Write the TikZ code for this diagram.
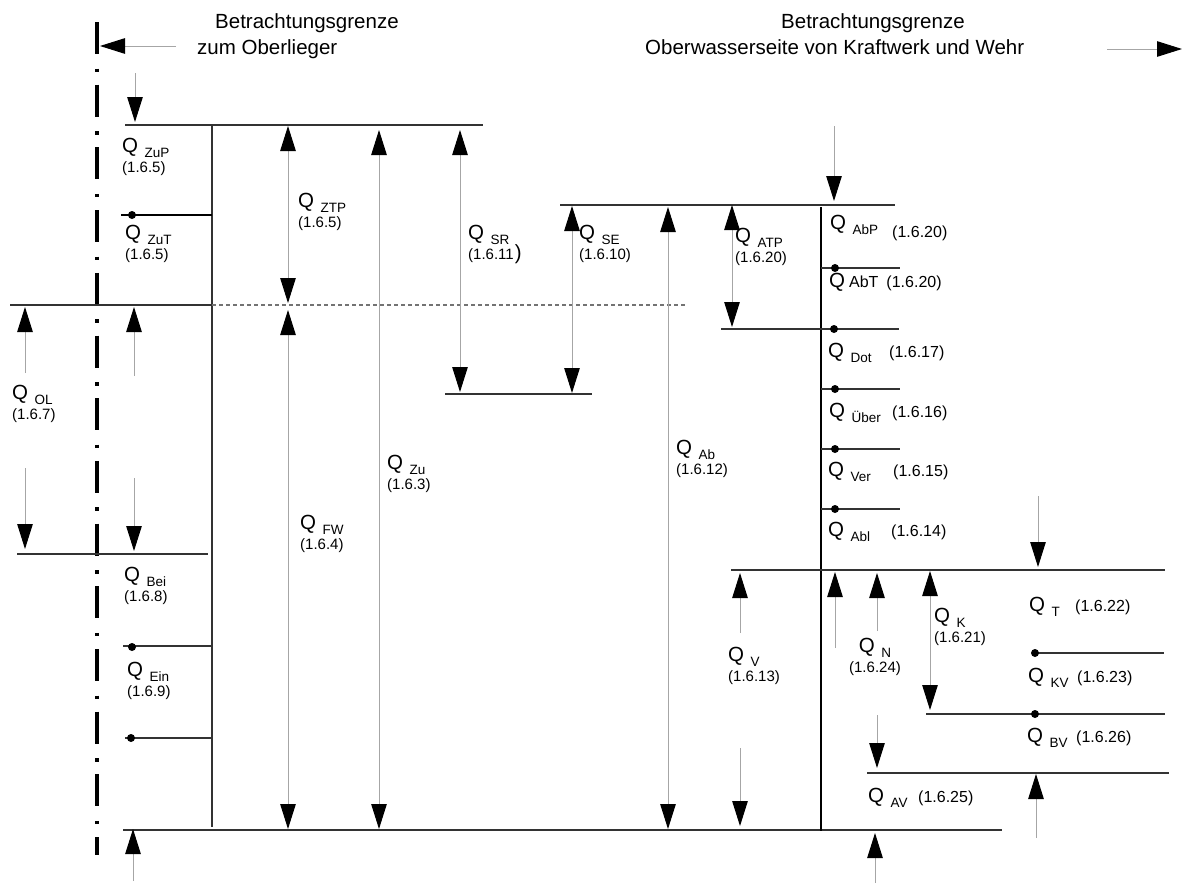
\documentclass[tikz,border=0pt]{standalone}
\usepackage{fontspec}
\setmainfont{Liberation Sans}
\usetikzlibrary{arrows.meta}

\newcommand{\subf}{\fontsize{13.5}{16}\selectfont}
\newcommand{\numf}{\fontsize{15}{18}\selectfont}
\newcommand{\rnumf}{\fontsize{16}{18}\selectfont}
\newcommand{\Qsub}[1]{Q\hspace{6.5pt}\raisebox{-5pt}{\subf #1}}
\newcommand{\Qrow}[3]{\makebox[#1][l]{\Qsub{#2}}{\rnumf #3}}

\begin{document}
\begin{tikzpicture}[
  x=1pt, y=-1pt,
  font=\fontsize{20.5}{20}\selectfont,
  >={Triangle[length=25pt, width=15.5pt, color=black]},
  lvline/.style={draw=black!80, line width=1.3pt},
  flow/.style={draw=black!35, line width=1pt, ->},
  both/.style={draw=black!35, line width=1pt, <->},
  grenze/.style={line width=4pt, dash pattern=on 32pt off 14.5pt on 3.5pt off 12.7pt},
  qlabel/.style={anchor=north west, inner sep=0pt, align=left},
  head/.style={anchor=north west, inner sep=0pt, align=left, font=\fontsize{20.5}{26}\selectfont}
]
\useasboundingbox (0,0) rectangle (1184,884);

% Betrachtungsgrenzen
\draw[grenze] (97,22) -- (97,855);
\node[head] (grenzeol) at (197,13) {\hspace*{18pt}Betrachtungsgrenze\\zum Oberlieger};
\draw[flow] (176,46) -- (100,46);
\node[head] (grenzeow) at (645,13) {\hspace*{136pt}Betrachtungsgrenze\\Oberwasserseite von Kraftwerk und Wehr};
\draw[flow] (1107,49) -- (1182,49);

% Zufluss
\draw[lvline] (125,125) -- (483,125);
\draw[lvline] (212,125) -- (212,827);
\draw[lvline, draw=black, line width=2pt] (121,215) -- (212,215);
\fill (132,215) circle (4pt);
\draw[lvline] (10,305) -- (212,305);
\draw[lvline, draw=black!55, dash pattern=on 4pt off 3pt] (212,305) -- (687,305);
\draw[lvline] (17,554) -- (208,554);
\draw[lvline] (123,646) -- (212,646);
\fill (132,647) circle (4pt);
\draw[lvline] (125,738) -- (212,738);
\fill (131,738) circle (4pt);
\draw[lvline] (123,830) -- (1002,830);

\draw[flow] (135,73) -- (135,122);
\draw[flow] (25,373) -- (25,307);
\draw[flow] (25,468) -- (25,549);
\draw[flow] (134,376) -- (134,307);
\draw[flow] (134,478) -- (134,551);
\draw[flow] (133,881) -- (133,829);
\draw[both] (288,126) -- (288,303);
\draw[both] (288,310) -- (288,829);
\draw[both] (379,130) -- (379,829);

\node[qlabel] (qzup) at (122,138) {\Qsub{ZuP}\\{\numf (1.6.5)}};
\node[qlabel] (qzut) at (125,225) {\Qsub{ZuT}\\{\numf (1.6.5)}};
\node[qlabel] (qol) at (12,385) {\Qsub{OL}\\{\numf (1.6.7)}};
\node[qlabel] (qbei) at (124,567) {\Qsub{Bei}\\{\numf (1.6.8)}};
\node[qlabel] (qein) at (127,662) {\Qsub{Ein}\\{\numf (1.6.9)}};
\node[qlabel] (qztp) at (298,193) {\Qsub{ZTP}\\{\numf (1.6.5)}};
\node[qlabel] (qfw) at (300,515) {\Qsub{FW}\\{\numf (1.6.4)}};
\node[qlabel] (qzu) at (387,455) {\Qsub{Zu}\\{\numf (1.6.3)}};

% Speicher
\draw[lvline] (560,205) -- (895,205);
\draw[lvline] (445,394) -- (592,394);
\draw[both] (460,130) -- (460,392);
\draw[both] (572,206) -- (572,393);
\draw[both] (668,207) -- (668,829);
\draw[both] (732,205) -- (732,327);

\node[qlabel] (qsr) at (468,225) {\Qsub{SR}\\{\numf (1.6.11}\hspace{1pt})};
\node[qlabel] (qse) at (579,225) {\Qsub{SE}\\{\numf (1.6.10)}};
\node[qlabel] (qatp) at (735,228) {\Qsub{ATP}\\{\numf (1.6.20)}};
\node[qlabel] (qab) at (676,440) {\Qsub{Ab}\\{\numf (1.6.12)}};
\node[qlabel] (qv) at (728,647) {\Qsub{V}\\{\numf (1.6.13)}};

% Abgabe Kraftwerk und Wehr
\draw[lvline, draw=black] (821,207) -- (821,831);
\draw[lvline] (721,329) -- (899,329);
\fill (834,329) circle (4pt);
\foreach \y in {268,389,449,509} {
  \draw[lvline] (821,\y) -- (900,\y);
  \fill (835,\y) circle (4pt);
}
\draw[flow] (834,126) -- (834,201);

\node[qlabel] (qabp) at (830,215) {\Qrow{62pt}{AbP}{\raisebox{-8pt}{(1.6.20)}}};
\node[qlabel] (qabt) at (829,273) {Q\hspace{4pt}{\fontsize{16}{18}\selectfont AbT\hspace{8pt}(1.6.20)}};
\node[qlabel] (qdot) at (828,343) {\Qrow{61pt}{Dot}{(1.6.17)}};
\node[qlabel] (quber) at (829,403) {\Qrow{63pt}{Über}{(1.6.16)}};
\node[qlabel] (qver) at (828,462) {\Qrow{65pt}{Ver}{(1.6.15)}};
\node[qlabel] (qabl) at (828,522) {\Qrow{63pt}{Abl}{(1.6.14)}};

% Unterwasser
\draw[lvline] (731,570) -- (1165,570);
\draw[lvline] (1035,653) -- (1164,653);
\fill (1035,653) circle (4pt);
\draw[lvline] (926,714) -- (1165,714);
\fill (1035,714) circle (4pt);
\draw[lvline] (867,773) -- (1169,773);

\draw[flow] (740,633) -- (740,573);
\draw[flow] (740,748) -- (740,826);
\draw[flow] (1038,496) -- (1038,567);
\draw[flow] (835,648) -- (835,572);
\draw[flow] (877,631) -- (877,573);
\draw[flow] (877,715) -- (877,768);
\draw[both] (930,571) -- (930,710);
\draw[flow] (875,883) -- (875,833);
\draw[flow] (1036,838) -- (1036,774);

\node[qlabel, anchor=north, align=center] (qn) at (875,638) {\Qsub{N}\\{\numf (1.6.24)}};
\node[qlabel] (qk) at (934,608) {\Qsub{K}\\{\numf (1.6.21)}};
\node[qlabel] (qt) at (1029,597) {\Qrow{46pt}{T}{(1.6.22)}};
\node[qlabel] (qkv) at (1028,668) {\Qrow{49pt}{KV}{(1.6.23)}};
\node[qlabel] (qbv) at (1027,728) {\Qrow{49pt}{BV}{(1.6.26)}};
\node[qlabel] (qav) at (868,788) {\Qrow{50pt}{AV}{(1.6.25)}};

\end{tikzpicture}
\end{document}
